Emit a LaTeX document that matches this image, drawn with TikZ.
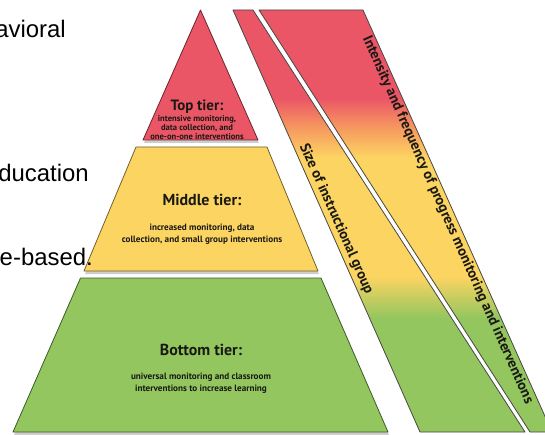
\documentclass[tikz,border=0pt]{standalone}
\usepackage{fontspec}
\setmainfont{Liberation Sans}
\newfontfamily\tierfont{PT Sans}

\definecolor{tierred}{RGB}{235,86,103}
\definecolor{tieryellow}{RGB}{252,212,98}
\definecolor{tiergreen}{RGB}{147,198,95}
\definecolor{edgered}{RGB}{110,35,45}
\definecolor{edgeyellow}{RGB}{115,95,45}
\definecolor{edgegreen}{RGB}{60,90,40}
\definecolor{bandorange}{RGB}{246,150,95}
\definecolor{inkdark}{RGB}{25,25,20}

% red at the top, through orange and yellow, to green at the bottom
\pgfdeclareverticalshading{bandfill}{100bp}{%
  color(0bp)=(tiergreen); color(25bp)=(tiergreen); color(38.5bp)=(tiergreen);
  color(43.4bp)=(tieryellow); color(57.5bp)=(tieryellow);
  color(61.2bp)=(bandorange); color(64.5bp)=(tierred); color(100bp)=(tierred)}

\tikzset{
  tiershadow/.style={fill=black!35, opacity=0.55},
  tierbox/.style={line width=0.8pt, line join=round},
  bandbox/.style={shading=bandfill, draw=inkdark!80, line width=0.8pt, line join=round},
  tiertitle/.style={font=\tierfont\bfseries\fontsize{16}{18}\selectfont, text=inkdark, inner sep=0pt},
  tiertext/.style={font=\tierfont\bfseries\fontsize{9.2}{12}\selectfont, text=inkdark, align=center, inner sep=0pt},
  toptext/.style={font=\tierfont\bfseries\fontsize{8.6}{8.6}\selectfont, text=inkdark, align=center, inner sep=0pt},
  bandlabel/.style={font=\tierfont\bfseries\fontsize{14.5}{16}\selectfont, text=inkdark, inner sep=0pt},
  lefttext/.style={font=\fontsize{24}{28}\selectfont, text=black, inner sep=0pt, anchor=base east}
}

\begin{document}
\begin{tikzpicture}[x=1bp, y=-1bp]
\useasboundingbox (0,0) rectangle (545,435);
\fill[white] (0,0) rectangle (545,435);

% shadows under the tiers
\fill[tiershadow] (201,13) -- (259,143) -- (144,143) -- cycle;
\fill[tiershadow] (137,150) -- (268,150) -- (319,274) -- (85,274) -- cycle;
\fill[tiershadow] (81,281) -- (322,281) -- (389,435) -- (14,435) -- cycle;

% pyramid tiers
\filldraw[tierbox, fill=tierred, draw=edgered] (200.5,10) -- (258,140) -- (143,140) -- cycle;
\filldraw[tierbox, fill=tieryellow, draw=edgeyellow] (136,147) -- (267,147) -- (318,271) -- (84,271) -- cycle;
\filldraw[tierbox, fill=tiergreen, draw=edgegreen] (80.5,278) -- (321,278) -- (388,432) -- (13,432) -- cycle;

% tier labels
\node[tiertitle, font=\tierfont\bfseries\fontsize{15}{17}\selectfont] (topT) at (197,107) {Top tier:};
\node[toptext] (topD) at (197,127.5) {intensive monitoring,\\data collection, and\\one-on-one interventions};
\node[tiertitle] (midT) at (202,200) {Middle tier:};
\node[tiertext] (midD) at (202,234) {increased monitoring, data\\collection, and small group interventions};
\node[tiertitle] (botT) at (201,350) {Bottom tier:};
\node[tiertext] (botD) at (201,383) {universal monitoring and classroom\\interventions to increase learning};

% the two slanted bands
\path[bandbox] (233,10) -- (253,10) -- (525,432) -- (420,432) -- cycle;
\path[bandbox] (259,10) -- (363,10) -- (552,432) -- (530,432) -- cycle;

\node[bandlabel, rotate=-66] (sizeL) at (336,219) {Size of instructional group};
\node[bandlabel, rotate=-66] (intL) at (447.5,220) {Intensity and frequency of progress monitoring and interventions};

% text running in from the left
\node[lefttext] (fragA) at (66,38) {avioral};
\node[lefttext] (fragB) at (89,182) {ducation};
\node[lefttext] (fragC) at (93,266) {e-based.};
\end{tikzpicture}
\end{document}
